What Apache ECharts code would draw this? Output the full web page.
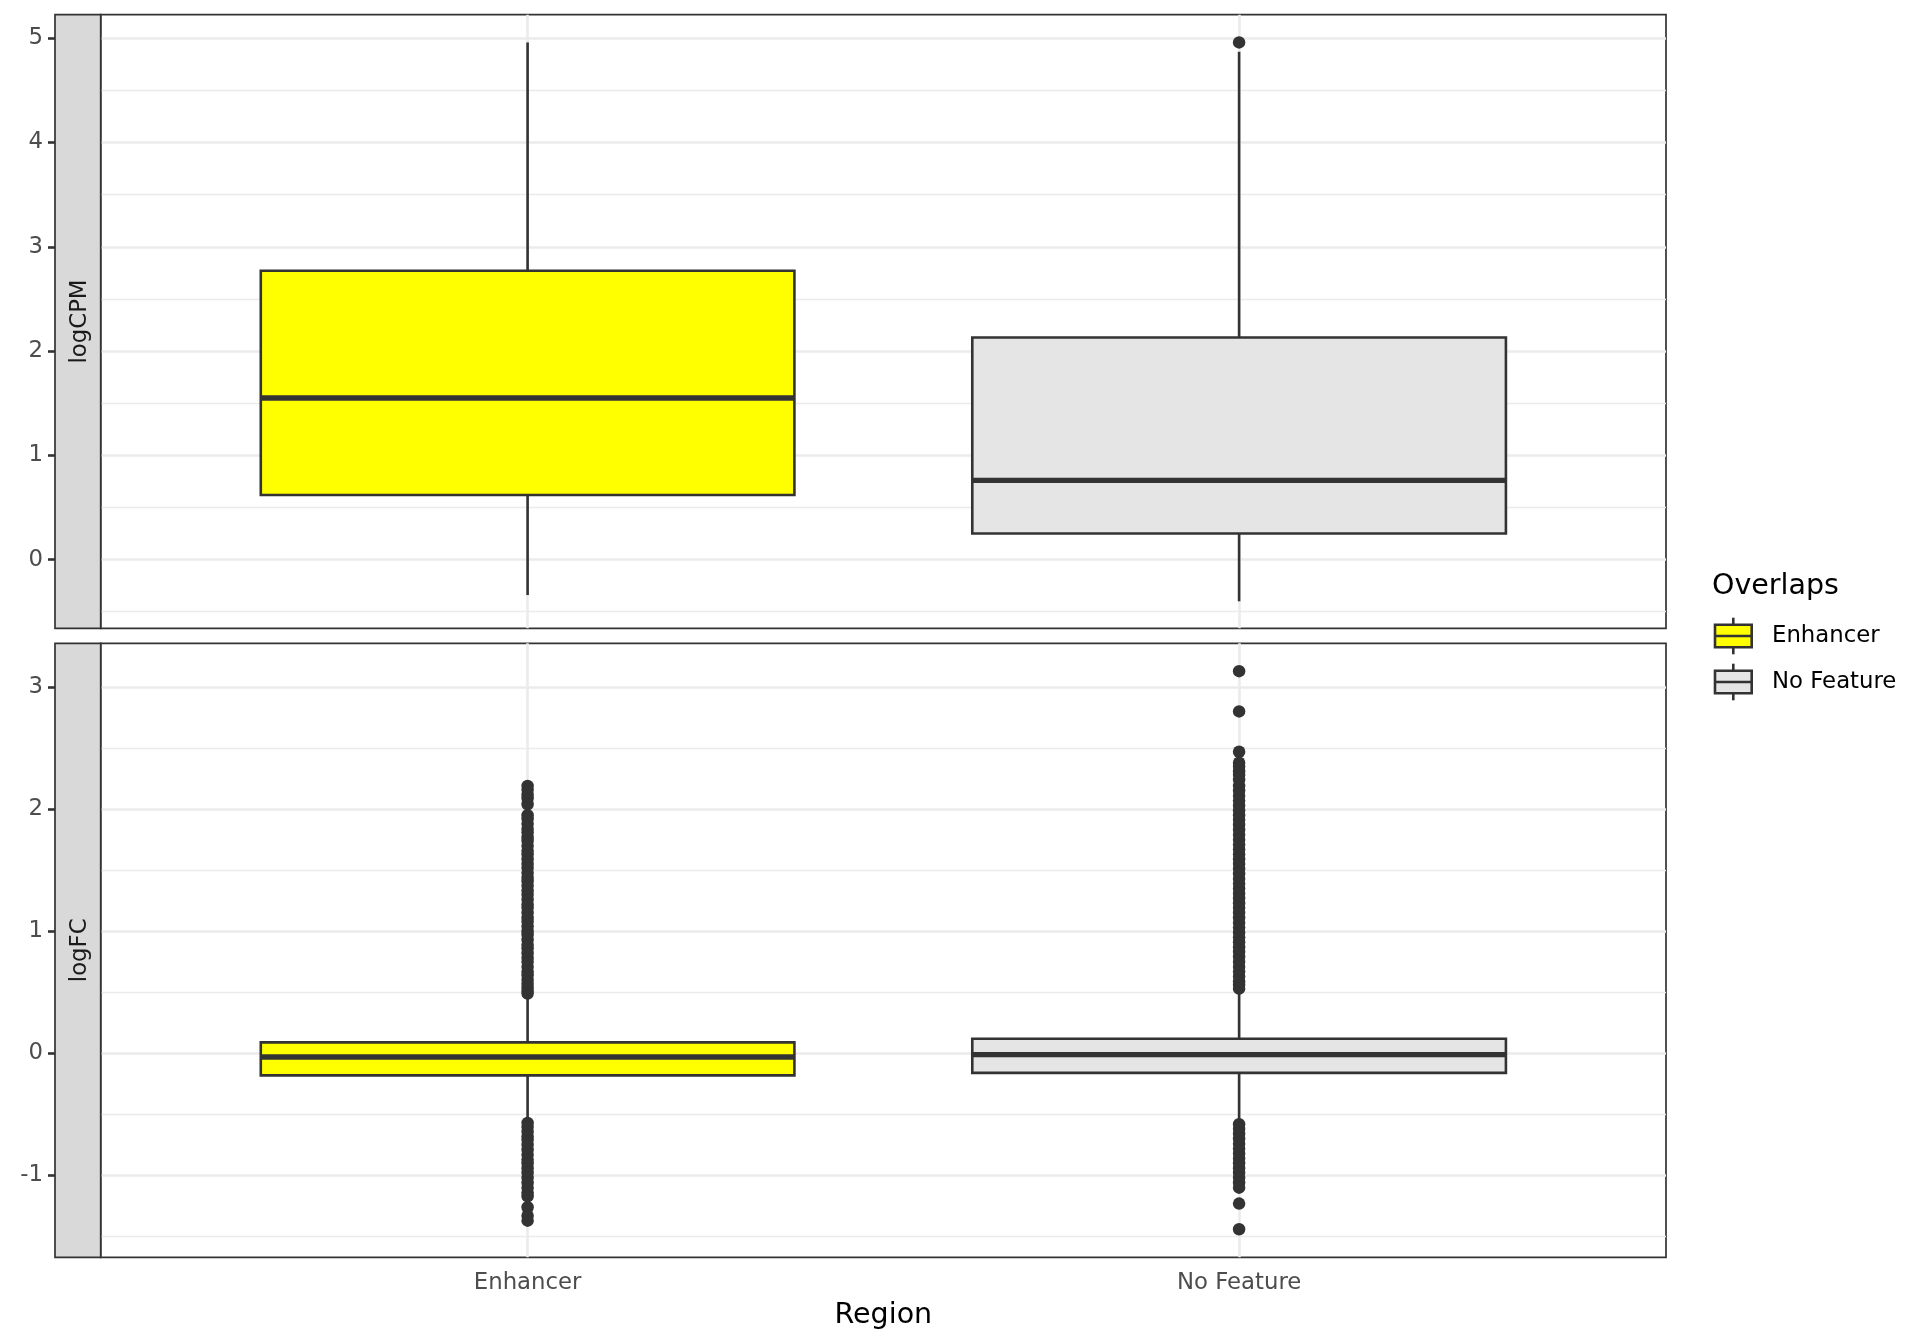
<!DOCTYPE html>
<html lang="en">
<head>
    <meta charset="UTF-8">
    <title>logCPM / logFC by Region</title>
    <script type="text/javascript" src="https://cdn.jsdelivr.net/npm/echarts@6/dist/echarts.min.js"></script>
    <style>
        html, body { margin: 0; padding: 0; background: #fff; }
        #main { width: 1920px; height: 1344px; }
    </style>
</head>
<body>
<div id="main"></div>
<script>
    // categories and fills
    var regions = ['Enhancer', 'No Feature'];
    var fills = ['#FFFF00', '#E5E5E5'];
    var facets = ['logCPM', 'logFC'];

    // boxes: [lower whisker, Q1, median, Q3, upper whisker]
    var cpmBoxes = [[-0.34, 0.62, 1.55, 2.77, 4.96], [-0.40, 0.25, 0.76, 2.13, 4.87]];
    var fcBoxes = [[-0.54, -0.18, -0.03, 0.09, 0.47], [-0.55, -0.16, -0.01, 0.12, 0.49]];

    // outliers
    var cpmOutEnhancer = [];
    var cpmOutNoFeature = [4.96];
    var fcOutEnhancer = [
        2.19, 2.16, 2.12, 2.09, 2.04, 1.95, 1.92, 1.88, 1.84, 1.81, 1.77, 1.74, 1.70, 1.66,
        1.63, 1.59, 1.55, 1.52, 1.48, 1.44, 1.41, 1.37, 1.33, 1.30, 1.26, 1.22, 1.19, 1.15,
        1.11, 1.08, 1.04, 1.00, 0.97, 0.93, 0.89, 0.86, 0.82, 0.78, 0.75, 0.71, 0.67, 0.64,
        0.60, 0.57, 0.54, 0.51, 0.49,
        -0.57, -0.60, -0.64, -0.68, -0.71, -0.75, -0.79, -0.83, -0.87, -0.90, -0.94, -0.98,
        -1.02, -1.06, -1.10, -1.14, -1.17, -1.26, -1.33, -1.37
    ];
    var fcOutNoFeature = [
        3.13, 2.80, 2.47, 2.38, 2.35, 2.31, 2.28, 2.24, 2.19, 2.15, 2.11, 2.07, 2.03, 1.99,
        1.95, 1.91, 1.87, 1.83, 1.79, 1.75, 1.71, 1.67, 1.63, 1.59, 1.55, 1.51, 1.47, 1.43,
        1.39, 1.35, 1.31, 1.27, 1.23, 1.19, 1.15, 1.11, 1.07, 1.03, 0.99, 0.95, 0.91, 0.87,
        0.83, 0.79, 0.75, 0.71, 0.67, 0.63, 0.59, 0.56, 0.53,
        -0.58, -0.62, -0.66, -0.70, -0.74, -0.78, -0.82, -0.86, -0.90, -0.94, -0.98, -1.02,
        -1.06, -1.10, -1.23, -1.44
    ];

    // axis ranges and tick labels
    var cpmRange = [-0.659, 5.226];
    var fcRange = [-1.670, 3.358];
    var cpmTicks = [0, 1, 2, 3, 4, 5];
    var cpmMinor = [-0.5, 0.5, 1.5, 2.5, 3.5, 4.5];
    var fcTicks = [-1, 0, 1, 2, 3];
    var fcMinor = [-1.5, -0.5, 0.5, 1.5, 2.5];

    var FONT = 'DejaVu Sans';
    var DARK = '#333333';
    var boxWidth = 0.75;

    var panelLeft = 100.7, panelRight = 1666, stripLeft = 55;
    var panels = [{top: 14.7, bottom: 628.3}, {top: 643.3, bottom: 1257.3}];

    function withX(list) {
        return list.map(function (b, i) { return [i + 1].concat(b); });
    }
    function outPoints(a, b) {
        return a.map(function (v) { return [1, v]; }).concat(b.map(function (v) { return [2, v]; }));
    }

    function drawBox(params, api) {
        var x = api.value(0);
        var p = [1, 2, 3, 4, 5].map(function (d) { return api.coord([x, api.value(d)]); });
        var half = api.size([boxWidth, 0])[0] / 2;
        var cx = p[0][0];
        var ln = {stroke: DARK, lineWidth: 2.6};
        return {
            type: 'group',
            children: [
                {type: 'line', shape: {x1: cx, y1: p[0][1], x2: cx, y2: p[1][1]}, style: ln},
                {type: 'line', shape: {x1: cx, y1: p[3][1], x2: cx, y2: p[4][1]}, style: ln},
                {type: 'rect', shape: {x: cx - half, y: p[3][1], width: half * 2, height: p[1][1] - p[3][1]},
                    style: {fill: fills[params.dataIndex], stroke: DARK, lineWidth: 2.6}},
                {type: 'line', shape: {x1: cx - half, y1: p[2][1], x2: cx + half, y2: p[2][1]},
                    style: {stroke: DARK, lineWidth: 5.4}}
            ]
        };
    }

    function xAxisFor(i) {
        var last = i === 1;
        return {
            type: 'value', gridIndex: i, min: 0.4, max: 2.6,
            name: last ? 'Region' : '', nameLocation: 'middle', nameGap: 44,
            nameTextStyle: {fontFamily: FONT, fontSize: 28.5, color: '#000'},
            axisLine: {show: false},
            axisTick: {show: last, customValues: [1, 2], length: 7, lineStyle: {color: DARK, width: 2.6}},
            axisLabel: {
                show: last, customValues: [1, 2], margin: 14.5,
                fontFamily: FONT, fontSize: 22.8, color: '#4D4D4D',
                formatter: function (v) { return regions[Math.round(v) - 1]; }
            },
            splitLine: {show: true, lineStyle: {color: '#EBEBEB', width: 2.6}}
        };
    }

    function yAxisFor(i, range, ticks) {
        return {
            type: 'value', gridIndex: i, min: range[0], max: range[1],
            offset: panelLeft - stripLeft,
            axisLine: {show: false},
            axisTick: {show: true, customValues: ticks, length: 7, lineStyle: {color: DARK, width: 2.6}},
            axisLabel: {customValues: ticks, margin: 12, fontFamily: FONT, fontSize: 22.8, color: '#4D4D4D'},
            splitLine: {show: true, lineStyle: {color: '#EBEBEB', width: 2.6}}
        };
    }

    function minorAxisFor(i, range, ticks) {
        return {
            type: 'value', gridIndex: i, min: range[0], max: range[1],
            axisLine: {show: false},
            axisTick: {show: false, customValues: ticks},
            axisLabel: {show: false, customValues: ticks},
            splitLine: {show: true, lineStyle: {color: '#EBEBEB', width: 1.3}}
        };
    }

    var grids = panels.map(function (p) {
        return {
            left: panelLeft, top: p.top, width: panelRight - panelLeft, height: p.bottom - p.top,
            show: true, borderColor: DARK, borderWidth: 1.7, backgroundColor: '#fff'
        };
    });

    var graphics = [];
    panels.forEach(function (p, i) {
        graphics.push({
            type: 'rect', z: 10,
            shape: {x: stripLeft, y: p.top, width: panelLeft - stripLeft, height: p.bottom - p.top},
            style: {fill: '#D9D9D9', stroke: DARK, lineWidth: 1.7}
        });
        graphics.push({
            type: 'text', z: 11, x: (stripLeft + panelLeft) / 2 + 2, y: (p.top + p.bottom) / 2,
            rotation: Math.PI / 2,
            style: {text: facets[i], fontFamily: FONT, fontSize: 22.8, fill: '#1A1A1A',
                align: 'center', verticalAlign: 'middle'}
        });
    });

    // legend
    graphics.push({
        type: 'text', x: 1712, y: 586.5,
        style: {text: 'Overlaps', fontFamily: FONT, fontSize: 28.5, fill: '#000', align: 'left', verticalAlign: 'middle'}
    });
    regions.forEach(function (name, i) {
        var cy = 636 + i * 46;
        graphics.push({
            type: 'group',
            children: [
                {type: 'line', shape: {x1: 1733.3, y1: cy - 18.3, x2: 1733.3, y2: cy + 18.3}, style: {stroke: DARK, lineWidth: 2.6}},
                {type: 'rect', shape: {x: 1715, y: cy - 11.3, width: 36.7, height: 22.6},
                    style: {fill: fills[i], stroke: DARK, lineWidth: 2.6}},
                {type: 'line', shape: {x1: 1715, y1: cy, x2: 1751.7, y2: cy}, style: {stroke: DARK, lineWidth: 2.6}}
            ]
        });
        graphics.push({
            type: 'text', x: 1772, y: cy,
            style: {text: name, fontFamily: FONT, fontSize: 22.8, fill: '#000', align: 'left', verticalAlign: 'middle'}
        });
    });

    var chart = echarts.init(document.getElementById('main'), null, {renderer: 'canvas'});
    var option = {
        animation: false,
        backgroundColor: '#fff',
        grid: grids,
        xAxis: [xAxisFor(0), xAxisFor(1)],
        yAxis: [
            yAxisFor(0, cpmRange, cpmTicks),
            yAxisFor(1, fcRange, fcTicks),
            minorAxisFor(0, cpmRange, cpmMinor),
            minorAxisFor(1, fcRange, fcMinor)
        ],
        series: [
            {type: 'custom', xAxisIndex: 0, yAxisIndex: 0, z: 2, renderItem: drawBox,
                encode: {x: 0, y: [1, 2, 3, 4, 5]}, data: withX(cpmBoxes)},
            {type: 'scatter', xAxisIndex: 0, yAxisIndex: 0, z: 3, symbolSize: 12.5,
                itemStyle: {color: DARK, opacity: 1}, data: outPoints(cpmOutEnhancer, cpmOutNoFeature)},
            {type: 'custom', xAxisIndex: 1, yAxisIndex: 1, z: 2, renderItem: drawBox,
                encode: {x: 0, y: [1, 2, 3, 4, 5]}, data: withX(fcBoxes)},
            {type: 'scatter', xAxisIndex: 1, yAxisIndex: 1, z: 3, symbolSize: 12.5,
                itemStyle: {color: DARK, opacity: 1}, data: outPoints(fcOutEnhancer, fcOutNoFeature)}
        ],
        graphic: graphics
    };
    chart.setOption(option);
</script>
</body>
</html>
